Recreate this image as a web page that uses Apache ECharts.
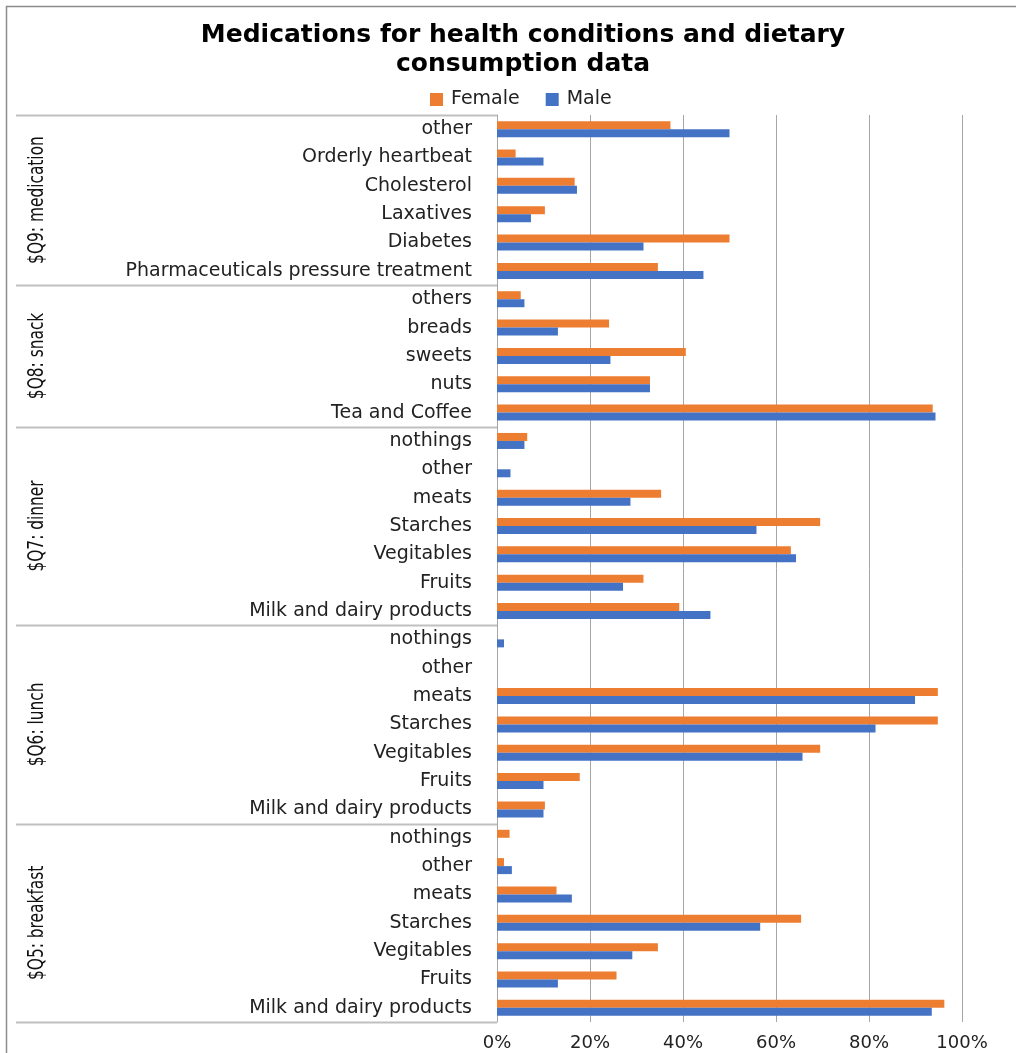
<!DOCTYPE html>
<html>
<head>
<meta charset="utf-8">
<script src="https://cdn.jsdelivr.net/npm/echarts@6/dist/echarts.min.js"></script>
<style>
html,body{margin:0;padding:0;background:#fff;}
#chart{width:1016px;height:1053px;}
</style>
</head>
<body>
<div id="chart"></div>
<script>
// ---- data (top-to-bottom order as displayed) ----
const groupLabels = ['$Q9: medication', '$Q8: snack', '$Q7: dinner', '$Q6: lunch', '$Q5: breakfast'];

const medicationCats = ['other', 'Orderly heartbeat', 'Cholesterol', 'Laxatives', 'Diabetes', 'Pharmaceuticals pressure treatment'];
const medicationFemale = [37.3, 4.0, 16.7, 10.3, 50.0, 34.6];
const medicationMale = [50.0, 10.0, 17.2, 7.3, 31.5, 44.4];

const snackCats = ['others', 'breads', 'sweets', 'nuts', 'Tea and Coffee'];
const snackFemale = [5.1, 24.1, 40.6, 32.9, 93.7];
const snackMale = [5.9, 13.1, 24.4, 32.9, 94.3];

const dinnerCats = ['nothings', 'other', 'meats', 'Starches', 'Vegitables', 'Fruits', 'Milk and dairy products'];
const dinnerFemale = [6.5, 0, 35.3, 69.5, 63.2, 31.5, 39.2];
const dinnerMale = [5.9, 2.9, 28.7, 55.8, 64.3, 27.1, 45.9];

const lunchCats = ['nothings', 'other', 'meats', 'Starches', 'Vegitables', 'Fruits', 'Milk and dairy products'];
const lunchFemale = [0, 0, 94.8, 94.8, 69.5, 17.8, 10.3];
const lunchMale = [1.5, 0, 89.9, 81.4, 65.7, 10.0, 10.0];

const breakfastCats = ['nothings', 'other', 'meats', 'Starches', 'Vegitables', 'Fruits', 'Milk and dairy products'];
const breakfastFemale = [2.7, 1.5, 12.8, 65.4, 34.6, 25.7, 96.2];
const breakfastMale = [0, 3.2, 16.1, 56.6, 29.1, 13.1, 93.5];

const xTicks = [0, 20, 40, 60, 80, 100];

// ---- build ----
const groupCats = [medicationCats, snackCats, dinnerCats, lunchCats, breakfastCats];
const categories = [].concat(...groupCats);
const femaleValues = [].concat(medicationFemale, snackFemale, dinnerFemale, lunchFemale, breakfastFemale);
const maleValues = [].concat(medicationMale, snackMale, dinnerMale, lunchMale, breakfastMale);

const chart = echarts.init(document.getElementById('chart'), null, {renderer: 'canvas'});
const GRID = {left: 497, right: 54, top: 115, bottom: 31};
const tickColor = '#222';

chart.setOption({
  animation: false,
  backgroundColor: '#fff',
  title: {
    text: 'Medications for health conditions and dietary\nconsumption data',
    left: 518, top: 16, textAlign: 'center',
    textStyle: {fontFamily: 'DejaVu Sans', fontWeight: 'bold', fontSize: 25, lineHeight: 29, color: '#000'}
  },
  legend: {
    data: ['Female', 'Male'],
    left: 425, top: 85,
    itemWidth: 13, itemHeight: 13, itemGap: 26,
    icon: 'rect',
    textStyle: {fontFamily: 'DejaVu Sans', fontSize: 19, color: '#222', padding: [0, 0, 0, 3]}
  },
  grid: GRID,
  xAxis: {
    type: 'value', min: 0, max: 100, interval: 20,
    axisLine: {show: false}, axisTick: {show: false},
    splitLine: {show: true, lineStyle: {color: '#a6a6a6', width: 1}},
    axisLabel: {formatter: '{value}%', margin: 12, fontFamily: 'DejaVu Sans', fontSize: 18, color: tickColor,
      customValues: xTicks}
  },
  yAxis: {
    type: 'category', data: categories, inverse: true,
    axisLine: {show: true, lineStyle: {color: '#a6a6a6', width: 1}},
    axisTick: {show: false},
    axisLabel: {margin: 25, fontFamily: 'DejaVu Sans', fontSize: 19, color: tickColor, interval: 0}
  },
  series: [
    {name: 'Female', type: 'bar', data: femaleValues, barWidth: 8, barGap: '0%', itemStyle: {color: '#ED7D31'}},
    {name: 'Male', type: 'bar', data: maleValues, barWidth: 8, barGap: '0%', itemStyle: {color: '#4472C4'}}
  ]
});

// multi-level category decorations: group separators & rotated group labels
const c0 = chart.convertToPixel({yAxisIndex: 0}, 0);
const c1 = chart.convertToPixel({yAxisIndex: 0}, 1);
const band = c1 - c0;
const axisX = chart.convertToPixel({xAxisIndex: 0}, 0);
const graphics = [];
// outer frame
graphics.push({type: 'rect', shape: {x: 6.5, y: 6.5, width: 1100, height: 1100}, style: {fill: null, stroke: '#8c8c8c', lineWidth: 1.5}, silent: true});
let start = 0;
const boundaries = [];
groupCats.forEach((cats, gi) => {
  const topY = chart.convertToPixel({yAxisIndex: 0}, start) - band / 2;
  const botY = chart.convertToPixel({yAxisIndex: 0}, start + cats.length - 1) + band / 2;
  boundaries.push(topY);
  if (gi === groupCats.length - 1) boundaries.push(botY);
  graphics.push({
    type: 'text', x: 37, y: (topY + botY) / 2, rotation: Math.PI / 2, scaleX: 0.7,
    style: {text: groupLabels[gi], fontFamily: 'DejaVu Sans', fontSize: 22, fill: '#111', align: 'center', verticalAlign: 'middle'},
    silent: true
  });
  start += cats.length;
});
boundaries.forEach(y => {
  const yy = Math.round(y) + 0.5;
  graphics.push({type: 'line', shape: {x1: 16, y1: yy, x2: axisX, y2: yy}, style: {stroke: '#c0c0c0', lineWidth: 2}, silent: true});
});
chart.setOption({graphic: graphics});
</script>
</body>
</html>
